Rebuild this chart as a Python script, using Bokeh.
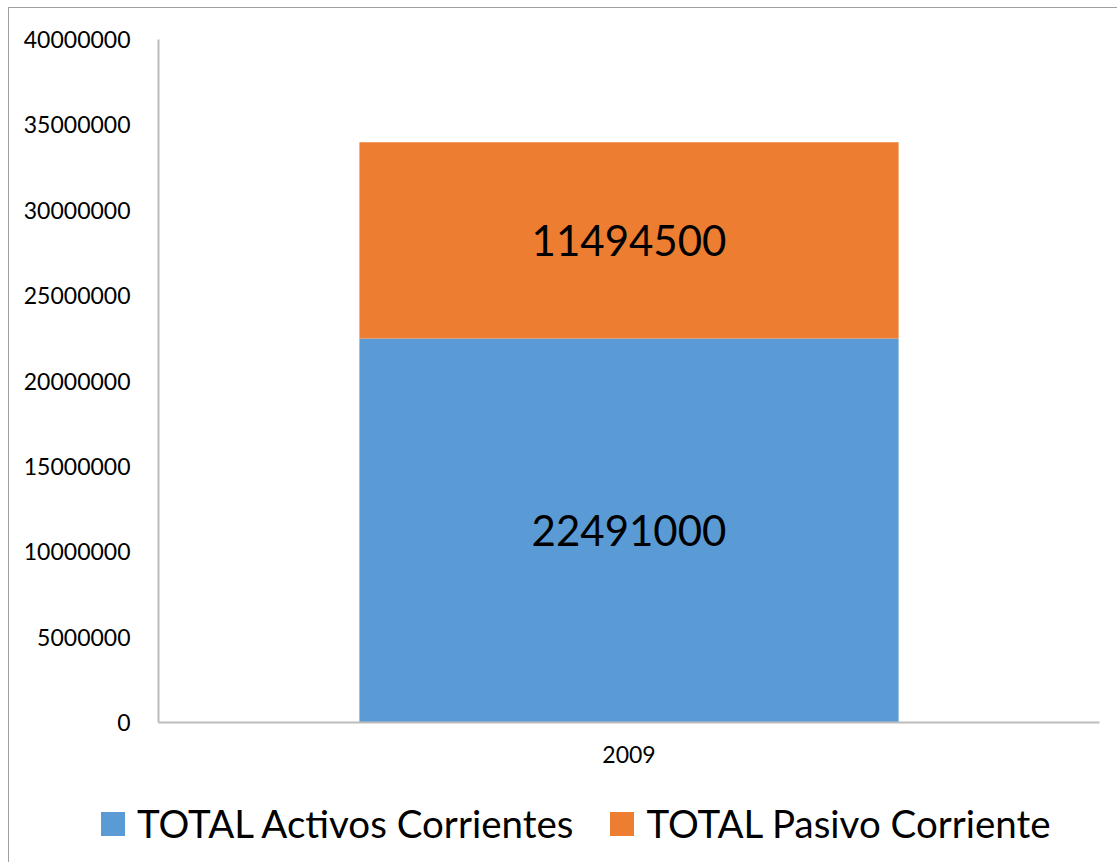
from bokeh.plotting import figure
from bokeh.layouts import column
from bokeh.models import (Range1d, FactorRange, FixedTicker, BasicTickFormatter,
                          ColumnDataSource, Div)
from bokeh.core.properties import value
from bokeh.embed import file_html
from bokeh.resources import INLINE

# ---- data ----
years = ["2009"]
activos = [22491000]
pasivo = [11494500]
series_names = ["TOTAL Activos Corrientes", "TOTAL Pasivo Corriente"]
series_colors = ["#5B9BD5", "#ED7D31"]
y_ticks = [0, 5000000, 10000000, 15000000, 20000000, 25000000, 30000000, 35000000, 40000000]

FONT = "Lato"

src = ColumnDataSource(dict(year=years, activos=activos, pasivo=pasivo))

p = figure(width=1108, height=777, x_range=FactorRange(*years, range_padding=0),
           y_range=Range1d(0, 40000000), output_backend="svg", toolbar_location=None,
           min_border_left=149, min_border_right=18, min_border_top=31, min_border_bottom=63)

rs = p.vbar_stack(["activos", "pasivo"], x="year", width=0.573, source=src,
                  color=series_colors, line_color=None)

# data labels in the middle of each segment
lab_x = years * 2
lab_y = [activos[0] / 2, activos[0] + pasivo[0] / 2]
lab_t = [str(activos[0]), str(pasivo[0])]
p.text(x=lab_x, y=lab_y, text=lab_t, text_align="center", text_baseline="middle",
       text_font=value(FONT), text_font_size="42px", text_color="#000000")

p.xgrid.visible = False
p.ygrid.visible = False
p.outline_line_color = None

# y axis
p.yaxis.ticker = FixedTicker(ticks=y_ticks)
p.yaxis.formatter = BasicTickFormatter(use_scientific=False)
p.yaxis.major_label_text_font = FONT
p.yaxis.major_label_text_font_size = "23px"
p.yaxis.major_label_text_color = "#000000"
p.yaxis.major_tick_line_color = None
p.yaxis.minor_tick_line_color = None
p.yaxis.axis_line_color = "#bcbcbc"
p.yaxis.axis_line_width = 2
p.yaxis.major_label_standoff = 22

# x axis
p.xaxis.major_label_text_font = FONT
p.xaxis.major_label_text_font_size = "23px"
p.xaxis.major_label_text_color = "#000000"
p.xaxis.major_tick_line_color = None
p.xaxis.minor_tick_line_color = None
p.xaxis.axis_line_color = "#bcbcbc"
p.xaxis.axis_line_width = 2
p.xaxis.major_label_standoff = 17

# legend strip below the chart (built from the series names / colours)
items_html = []
for i, (name, col) in enumerate(zip(series_names, series_colors)):
    ml = "37px" if i > 0 else "0px"
    items_html.append(
        f'<span style="display:inline-block;width:24px;height:24px;background:{col};'
        f'margin-left:{ml};margin-right:12px;flex:none"></span>'
        f'<span style="flex:none">{name}</span>')
legend_html = (f'<div style="display:flex;align-items:center;height:77px;width:1108px;'
               f'padding-left:92px;box-sizing:border-box;font-family:{FONT};font-size:38.5px;'
               f'color:#000000;white-space:nowrap;line-height:1">' + "".join(items_html) + '</div>')
legend_div = Div(text=legend_html, width=1108, height=77, margin=0)

layout = column(p, legend_div, spacing=0)
layout.styles = {"border-left": "1px solid #a0a0a0", "border-top": "1px solid #a0a0a0",
                 "margin-left": "8px", "margin-top": "7px"}

open("out.html", "w").write(file_html(layout, INLINE))
